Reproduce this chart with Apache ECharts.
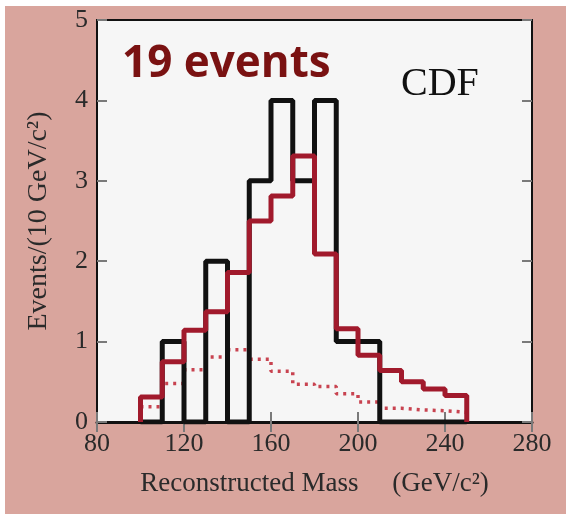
<!DOCTYPE html>
<html>
<head>
<meta charset="utf-8">
<script src="https://cdn.jsdelivr.net/npm/echarts@6/dist/echarts.min.js"></script>
<style>
    html, body { margin: 0; padding: 0; background: #fff; }
    #frame { position: absolute; left: 5px; top: 6px; width: 561px; height: 508px; background: #d9a59d; }
    #chart { position: absolute; left: 0; top: 0; width: 566px; height: 514px; }
</style>
</head>
<body>
<div id="frame"></div>
<div id="chart"></div>
<script>
// bins of 10 GeV/c^2, left edges
const binLow = [100, 110, 120, 130, 140, 150, 160, 170, 180, 190, 200, 210, 220, 230, 240]
const binWidth = 10
// observed events (black)
const observed = [0, 1, 0, 2, 0, 3, 4, 3, 4, 1, 1, 0, 0, 0, 0]
// expected signal + background (red solid)
const expected = [0.31, 0.75, 1.14, 1.37, 1.86, 2.50, 2.81, 3.31, 2.09, 1.16, 0.83, 0.64, 0.50, 0.41, 0.33]
// background only (red dotted)
const background = [0.19, 0.48, 0.65, 0.81, 0.90, 0.78, 0.63, 0.47, 0.44, 0.35, 0.25, 0.17, 0.15, 0.14, 0.12]
const xTicks = [80, 120, 160, 200, 240, 280]
const yTicks = [0, 1, 2, 3, 4, 5]

// histogram outline: left edge at 0, each bin, then back down at the last edge
function outline(values, closed) {
    const pts = closed ? [[binLow[0], 0]] : []
    values.forEach((v, i) => pts.push([binLow[i], v]))
    const last = binLow[binLow.length - 1] + binWidth
    pts.push([last, closed ? 0 : values[values.length - 1]])
    return pts
}

const serif = '"Liberation Serif", "DejaVu Serif", serif'
const chart = echarts.init(document.getElementById('chart'))

const tickStyle = { show: true, inside: true, length: 10, lineStyle: { color: '#7a7a7a', width: 2 } }

chart.setOption({
    backgroundColor: 'transparent',
    animation: false,
    grid: { left: 97, right: 34, top: 20, bottom: 92, show: true, backgroundColor: '#f6f6f6', borderColor: '#111', borderWidth: 2 },
    xAxis: [
        {
            type: 'value', min: xTicks[0], max: xTicks[xTicks.length - 1], interval: 40,
            axisLine: { lineStyle: { color: '#111', width: 3 } },
            axisTick: tickStyle,
            splitLine: { show: false },
            axisLabel: { color: '#2a2a2a', fontFamily: serif, fontSize: 26, margin: 9 },
            name: 'Reconstructed Mass     (GeV/c²)', nameLocation: 'middle', nameGap: 48,
            nameTextStyle: { color: '#2a2a2a', fontFamily: serif, fontSize: 27 },
        },
        {
            type: 'value', position: 'top', min: xTicks[0], max: xTicks[xTicks.length - 1], interval: 40,
            axisLine: { lineStyle: { color: '#111', width: 2 } },
            axisTick: tickStyle, axisLabel: { show: false }, splitLine: { show: false },
        },
    ],
    yAxis: [
        {
            type: 'value', min: yTicks[0], max: yTicks[yTicks.length - 1], interval: 1,
            axisLine: { show: true, lineStyle: { color: '#111', width: 2 } },
            axisTick: tickStyle,
            splitLine: { show: false },
            axisLabel: { color: '#2a2a2a', fontFamily: serif, fontSize: 26, margin: 9 },
            name: 'Events/(10 GeV/c²)', nameLocation: 'middle', nameGap: 44,
            nameTextStyle: { color: '#2a2a2a', fontFamily: serif, fontSize: 28 },
        },
        {
            type: 'value', position: 'right', min: yTicks[0], max: yTicks[yTicks.length - 1], interval: 1,
            axisLine: { show: true, lineStyle: { color: '#111', width: 2 } },
            axisTick: tickStyle, axisLabel: { show: false }, splitLine: { show: false },
        },
    ],
    series: [
        {
            name: 'background', type: 'line', step: 'end', symbol: 'none', data: outline(background, false),
            lineStyle: { color: '#c84350', width: 3.5, type: [3, 5] },
        },
        {
            name: 'observed', type: 'line', step: 'end', symbol: 'none', data: outline(observed, true),
            lineStyle: { color: '#111', width: 5 },
        },
        {
            name: 'expected', type: 'line', step: 'end', symbol: 'none', data: outline(expected, true),
            lineStyle: { color: '#a11a2c', width: 5 },
        },
    ],
    graphic: [
        {
            type: 'text', left: 122, top: 42,
            style: { text: '19 events', font: 'bold 44px "Open Sans", sans-serif', fill: '#7a1212', shadowColor: 'rgba(0,0,0,0.35)', shadowBlur: 2, shadowOffsetX: 1, shadowOffsetY: 1 },
        },
        {
            type: 'text', left: 401, top: 64,
            style: { text: 'CDF', font: '40px "Liberation Serif", serif', fill: '#111' },
        },
    ],
})
</script>
</body>
</html>
